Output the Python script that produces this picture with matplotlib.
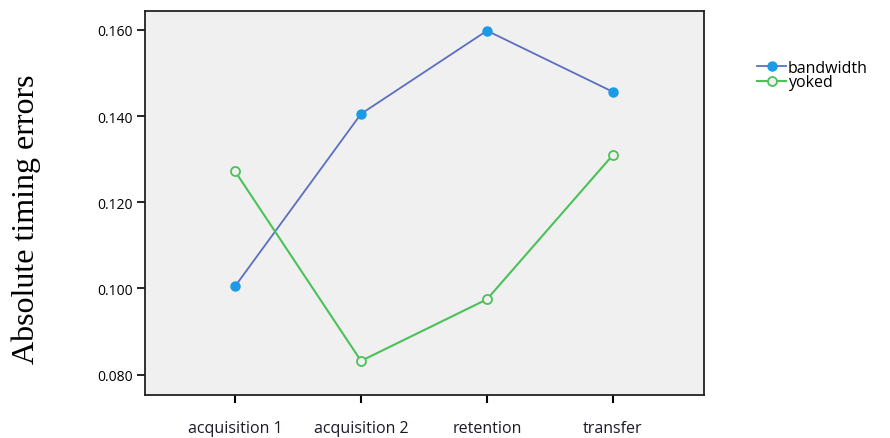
import matplotlib
matplotlib.use('Agg')
import matplotlib.pyplot as plt

phases = ['acquisition 1', 'acquisition 2', 'retention', 'transfer']
bandwidth = [0.1005, 0.1405, 0.1598, 0.1456]
yoked = [0.1272, 0.0832, 0.0975, 0.1310]
yticks = [0.080, 0.100, 0.120, 0.140, 0.160]

fig = plt.figure(figsize=(8.9, 4.39), dpi=100)
ax = fig.add_axes([0.163, 0.098, 0.628, 0.875])
ax.set_facecolor('#f0f0f0')

x = list(range(len(phases)))
ax.plot(x, bandwidth, '-o', color='#5b6fc0', linewidth=1.3,
        markerfacecolor='#1a9be6', markeredgecolor='#1a9be6', markersize=6.5,
        label='bandwidth')
ax.plot(x, yoked, '-o', color='#4cc15a', linewidth=1.5,
        markerfacecolor='#f0f0f0', markeredgecolor='#4cc15a', markeredgewidth=1.3,
        markersize=6.5, label='yoked')

ax.set_xlim(-0.714, 3.722)
ax.set_ylim(0.0753, 0.1644)
ax.set_yticks(yticks)
ax.set_yticklabels(['%.3f' % v for v in yticks], fontsize=10, family='Open Sans')
ax.set_xticks(x)
ax.set_xticklabels(phases, fontsize=11.5, family='Open Sans', color='#1a1a2a')
ax.tick_params(axis='x', length=6, width=1.5, pad=12)
ax.tick_params(axis='y', length=6, width=1.2, pad=3)
for s in ax.spines.values():
    s.set_linewidth(1.3)
    s.set_color('#222222')

fig.text(0.03, 0.5, 'Absolute timing errors', rotation=90, fontsize=23,
         family='Liberation Serif', va='center', ha='center')

ax.legend(loc='upper left', bbox_to_anchor=(1.07, 0.91), frameon=False,
          handlelength=1.8, handletextpad=0.1, labelspacing=-0.1,
          prop={'family': 'Open Sans', 'size': 11.5})

fig.savefig('out.png', dpi=100, facecolor='white')
